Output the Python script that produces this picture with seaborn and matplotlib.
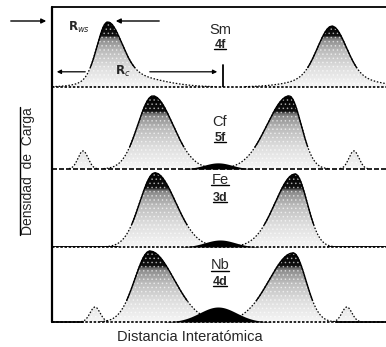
import numpy as np
import matplotlib
matplotlib.use("Agg")
import matplotlib.pyplot as plt
from matplotlib.colors import LinearSegmentedColormap
from matplotlib.patches import Polygon
from matplotlib.lines import Line2D
import seaborn as sns

sns.set_theme(style="white")
plt.rcParams['font.family'] = ['Liberation Sans', 'DejaVu Sans']
plt.rcParams['hatch.linewidth'] = 0.6

# ---- panel labels (top to bottom) ----
elements = ["Sm", "Cf", "Fe", "Nb"]
orbitals = ["4f", "5f", "3d", "4d"]
element_underlined = [False, False, True, True]

# ---- main orbital peaks: centre, height, left width, right width ----
sm_x = [1.65, 8.38]
sm_h = [0.67, 0.62]
sm_wl = [0.30, 0.42]
sm_wr = [0.42, 0.42]
# broad low skirt under each Sm peak
sm_skirt_x = [2.04, 8.45]
sm_skirt_h = [0.16, 0.14]
sm_skirt_wl = [0.75, 1.00]
sm_skirt_wr = [1.05, 1.00]

cf_x = [3.02, 7.10]
cf_h = [0.89, 0.89]
cf_wl = [0.45, 0.66]
cf_wr = [0.60, 0.36]

fe_x = [3.08, 7.28]
fe_h = [0.95, 0.935]
fe_wl = [0.45, 0.60]
fe_wr = [0.62, 0.36]

nb_x = [2.93, 7.22]
nb_h = [0.945, 0.92]
nb_wl = [0.45, 0.72]
nb_wr = [0.72, 0.38]

# ---- small outer satellite peaks ----
cf_sat_x = [0.93, 9.04]
cf_sat_h = [0.22, 0.22]
nb_sat_x = [1.29, 8.83]
nb_sat_h = [0.20, 0.20]
sat_w = 0.15

# ---- bonding charge between the atoms: centre, height, width ----
bond_x = [None, 4.97, 5.03, 4.97]
bond_h = [0.0, 0.075, 0.09, 0.20]
bond_w = [0.0, 0.42, 0.45, 0.55]

XMAX = 10.0
xs = np.linspace(-0.5, 10.5, 2200)


def lobe(x, c, h, wl, wr):
    w = np.where(x < c, wl, wr)
    return h * np.exp(-0.5 * ((x - c) / w) ** 2)


panels = [
    dict(peaks=[lobe(xs, c, h, l, r) + lobe(xs, sc, sh, sl, sr)
                for c, h, l, r, sc, sh, sl, sr in zip(sm_x, sm_h, sm_wl, sm_wr,
                                                      sm_skirt_x, sm_skirt_h,
                                                      sm_skirt_wl, sm_skirt_wr)],
         sats=[], base=(0, (1.5, 1.0))),
    dict(peaks=[lobe(xs, c, h, l, r) for c, h, l, r in zip(cf_x, cf_h, cf_wl, cf_wr)],
         sats=[lobe(xs, c, h, sat_w, sat_w) for c, h in zip(cf_sat_x, cf_sat_h)],
         base=(0, (3.0, 1.2))),
    dict(peaks=[lobe(xs, c, h, l, r) for c, h, l, r in zip(fe_x, fe_h, fe_wl, fe_wr)],
         sats=[], base=(0, (1.5, 1.0))),
    dict(peaks=[lobe(xs, c, h, l, r) for c, h, l, r in zip(nb_x, nb_h, nb_wl, nb_wr)],
         sats=[lobe(xs, c, h, sat_w, sat_w) for c, h in zip(nb_sat_x, nb_sat_h)],
         base=(0, (1.5, 1.0))),
]

# halftone-like grey ramp with a solid black cap on each peak
shade_cmap = LinearSegmentedColormap.from_list(
    "charge",
    [(0.0, "#f6f6f6"), (0.30, "#dedede"), (0.55, "#bdbdbd"),
     (0.72, "#8e8e8e"), (0.76, "#6a6a6a"), (0.79, "#111111"), (1.0, "#000000")])

W, H = 386, 347
fig = plt.figure(figsize=(W / 100, H / 100), dpi=100)
tops = [7, 87, 169, 247]
bots = [87, 169, 247, 322]
axes = []
for t, b in zip(tops, bots):
    ax = fig.add_axes([52 / W, 1 - b / H, 1 - 52 / W, (b - t) / H])
    ax.set_xlim(0, XMAX)
    ax.set_ylim(0, 1)
    ax.set_xticks([])
    ax.set_yticks([])
    for s in ax.spines.values():
        s.set_visible(False)
    ax.patch.set_alpha(0)
    axes.append(ax)


def shaded_peak(ax, y, top, thr_solid=0.3, lw=1.0, solid=True):
    m = y > 0.004
    x = xs[m]
    yy = y[m]
    verts = np.column_stack([np.r_[x[0], x, x[-1]], np.r_[0, yy, 0]])
    poly = Polygon(verts, closed=True, facecolor="none", edgecolor="none")
    ax.add_patch(poly)
    grad = np.linspace(0, 1, 256).reshape(-1, 1)
    im = ax.imshow(grad, extent=[x[0], x[-1], 0, top], origin="lower",
                   aspect="auto", cmap=shade_cmap, vmin=0, vmax=1,
                   interpolation="bilinear", zorder=1)
    im.set_clip_path(poly)
    # stipple texture over the grey
    ax.add_patch(Polygon(verts, closed=True, facecolor="none", edgecolor="white",
                         lw=0, hatch="....", alpha=0.55, zorder=2))
    # outline: dotted along the low tails, solid along the upper flanks
    sns.lineplot(x=x, y=yy, ax=ax, color="black", lw=0.9,
                 linestyle=(0, (1.2, 1.4)), zorder=3)
    if solid:
        up = np.where(yy > thr_solid * top, yy, np.nan)
        ax.plot(x, up, color="black", lw=lw, zorder=3)


for i, (ax, p) in enumerate(zip(axes, panels)):
    top = max(pk.max() for pk in p["peaks"])
    for pk in p["peaks"]:
        shaded_peak(ax, pk, top)
    for sp in p["sats"]:
        shaded_peak(ax, sp, top, solid=False)
    if bond_h[i] > 0:
        by = lobe(xs, bond_x[i], bond_h[i], bond_w[i], bond_w[i])
        ax.fill_between(xs, 0, by, where=by > 0.003, color="black", lw=0, zorder=4)
    # baseline of each panel
    ax.axhline(0, color="black", lw=1.2, linestyle=p["base"], zorder=3,
               clip_on=False)
    ax.set_xlim(0, XMAX)
    ax.set_ylim(0, 1)

# solid baseline stretches where the density is negligible
axes[2].plot([0, (118 - 52) / 33.4], [0, 0], color="black", lw=1.3, zorder=3)
axes[2].plot([(328 - 52) / 33.4, XMAX], [0, 0], color="black", lw=1.3, zorder=3)
axes[3].plot([0, (83 - 52) / 33.4], [0, 0], color="black", lw=1.3, zorder=3, clip_on=False)
axes[3].plot([(336 - 52) / 33.4, XMAX], [0, 0], color="black", lw=1.3, zorder=3, clip_on=False)

# frame: left axis and top edge
fig.add_artist(Line2D([52 / W, 52 / W], [1 - 7 / H, 1 - 322 / H], color="black", lw=1.6))
fig.add_artist(Line2D([52 / W, 1], [1 - 7 / H, 1 - 7 / H], color="black", lw=1.3))

# element / orbital labels
elem_y = [0.71, 0.57, 0.86, 0.76]
orb_y = [0.525, 0.38, 0.63, 0.53]
elem_texts, orb_texts = [], []
for ax, e, o, ey, oy in zip(axes, elements, orbitals, elem_y, orb_y):
    elem_texts.append(ax.text(5.03, ey, e, ha="center", va="center", fontsize=10.5, zorder=6))
    orb_texts.append(ax.text(5.03, oy, o, ha="center", va="center", fontsize=9,
                             fontweight="bold", zorder=6))

# radius markers in the Sm panel
a0 = axes[0]
px = lambda p: (p - 52) / 33.4
a0.annotate("", xy=(px(49), 0.825), xytext=(px(8), 0.825), annotation_clip=False,
            arrowprops=dict(arrowstyle="-|>", color="black", lw=1.0, mutation_scale=7))
a0.annotate("", xy=(px(113), 0.825), xytext=(px(162), 0.825),
            arrowprops=dict(arrowstyle="-|>", color="black", lw=1.0, mutation_scale=7))
a0.text(px(79), 0.74, r"$\mathbf{R}_{ws}$", ha="center", va="center", fontsize=8.5, zorder=6)
a0.annotate("", xy=(px(54), 0.19), xytext=(px(88), 0.19),
            arrowprops=dict(arrowstyle="-|>", color="black", lw=0.9, mutation_scale=6))
a0.annotate("", xy=(px(220), 0.19), xytext=(px(147), 0.19),
            arrowprops=dict(arrowstyle="-|>", color="black", lw=0.9, mutation_scale=6))
a0.text(px(123), 0.20, r"$\mathbf{R}_{c}$", ha="center", va="center", fontsize=8.5, zorder=6)
a0.plot([px(223), px(223)], [0, 0.275], color="black", lw=1.3, zorder=5)

# axis titles
xl = fig.text(190 / W, 1 - 337 / H, "Distancia Interatómica", ha="center", va="center",
              fontsize=10.5)
yl = fig.text(28 / W, 1 - 171 / H, "Densidad  de  Carga", ha="center", va="center",
              rotation=90, fontsize=10)

# underlines
fig.canvas.draw()
rend = fig.canvas.get_renderer()
inv = fig.transFigure.inverted()


def underline(t, vertical=False, pad=1.5):
    bb = t.get_window_extent(rend)
    if vertical:
        (x0, y0), (x1, y1) = inv.transform([(bb.x0 - pad, bb.y0), (bb.x0 - pad, bb.y1)])
    else:
        (x0, y0), (x1, y1) = inv.transform([(bb.x0, bb.y0 + pad), (bb.x1, bb.y0 + pad)])
    fig.add_artist(Line2D([x0, x1], [y0, y1], color="black", lw=1.0))


for t in orb_texts:
    underline(t, pad=2.0)
for t, u in zip(elem_texts, element_underlined):
    if u:
        underline(t, pad=1.5)
underline(yl, vertical=True, pad=1.0)

fig.savefig("out.png", dpi=100)
